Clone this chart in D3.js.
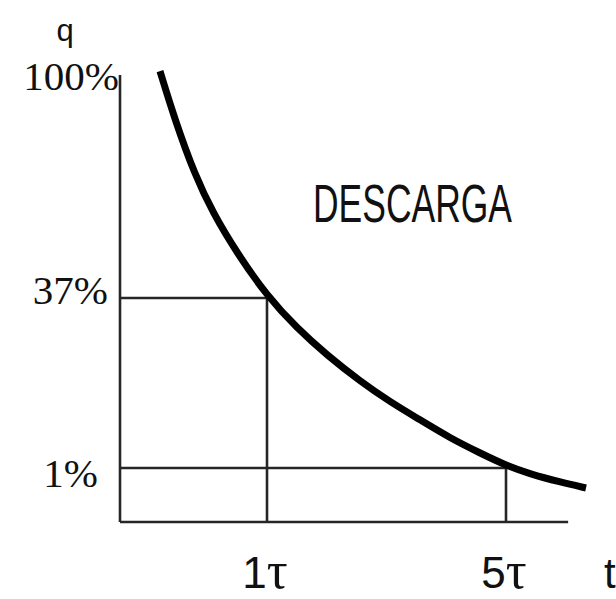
<!DOCTYPE html>
<html>
<head>
<meta charset="utf-8">
<script src="https://cdn.jsdelivr.net/npm/d3@7"></script>
<style>
  body { margin: 0; background: #fff; }
  svg { display: block; }
</style>
</head>
<body>
<div id="chart"></div>
<script>
// discharge curve, t in units of tau, q in percent
const curveT = [0.272, 0.374, 0.51, 0.633, 0.796, 1.0, 1.502, 2.004, 2.556, 3.059, 3.561, 4.063, 4.565, 4.983, 5.402, 5.904, 6.339]
const curveQ = [101.1, 87.3, 71.7, 61.0, 49.7, 37.6, 30.6, 24.9, 19.4, 15.0, 11.2, 7.35, 4.18, 1.64, 0.89, 0.74, 0.63]

// reference marks
const markT = [1, 5]
const markQ = [37, 1]
const markTLabels = ['1', '5']
const qTicks = [100, 37, 1]
const qTickLabels = ['100%', '37%', '1%']

const tMax = 6.04
const qMax = 100

const svgWidth = 616
const svgHeight = 599

const svg = d3.select('#chart')
  .append('svg')
  .attr('width', svgWidth)
  .attr('height', svgHeight)

// the drawing is schematic, so both scales are piecewise
const x = d3.scaleLinear()
  .domain([0, 1, 5])
  .range([120, 267, 506])

const y = d3.scaleLinear()
  .domain([0, 1, 37, 100])
  .range([522, 468, 298, 75])

const lineColor = '#262626'
const lineWidth = 2.6

// axes
svg.append('line')
  .attr('x1', x(0)).attr('x2', x(0))
  .attr('y1', y(0)).attr('y2', y(qMax))
  .attr('stroke', lineColor).attr('stroke-width', lineWidth)

svg.append('line')
  .attr('x1', x(0)).attr('x2', x(tMax))
  .attr('y1', y(0)).attr('y2', y(0))
  .attr('stroke', lineColor).attr('stroke-width', lineWidth)

// guide lines
const marks = markT.map((t, i) => ({ t: t, q: markQ[i] }))

svg.selectAll('.hguide')
  .data(marks)
  .join('line')
  .attr('class', 'hguide')
  .attr('x1', x(0)).attr('x2', d => x(d.t))
  .attr('y1', d => y(d.q)).attr('y2', d => y(d.q))
  .attr('stroke', lineColor).attr('stroke-width', lineWidth)

svg.selectAll('.vguide')
  .data(marks)
  .join('line')
  .attr('class', 'vguide')
  .attr('x1', d => x(d.t)).attr('x2', d => x(d.t))
  .attr('y1', d => y(d.q)).attr('y2', y(0))
  .attr('stroke', lineColor).attr('stroke-width', lineWidth)

// curve
const curve = curveT.map((t, i) => ({ t: t, q: curveQ[i] }))

svg.append('path')
  .datum(curve)
  .attr('fill', 'none')
  .attr('stroke', '#000')
  .attr('stroke-width', 7)
  .attr('d', d3.line().x(d => x(d.t)).y(d => y(d.q)).curve(d3.curveBasis))

// q labels (end x and baseline offset per tick)
const qLabelPos = { 100: [119, 15], 37: [108, 6], 1: [98, 19] }

svg.selectAll('.qlabel')
  .data(qTicks)
  .join('text')
  .attr('class', 'qlabel')
  .attr('x', d => qLabelPos[d][0])
  .attr('y', d => y(d) + qLabelPos[d][1])
  .attr('text-anchor', 'end')
  .attr('font-family', 'Liberation Serif, serif')
  .attr('font-size', 41)
  .attr('fill', '#111')
  .text((d, i) => qTickLabels[i])

svg.append('text')
  .attr('x', 65)
  .attr('y', 41)
  .attr('text-anchor', 'middle')
  .attr('font-family', 'Liberation Sans, sans-serif')
  .attr('font-size', 31)
  .attr('fill', '#111')
  .text('q')

// t labels
const tLabels = svg.selectAll('.tlabel')
  .data(markT)
  .join('text')
  .attr('class', 'tlabel')
  .attr('x', d => x(d) - 2)
  .attr('y', 588)
  .attr('text-anchor', 'middle')
  .attr('fill', '#111')

tLabels.append('tspan')
  .attr('font-family', 'Liberation Sans, sans-serif')
  .attr('font-size', 44)
  .text((d, i) => markTLabels[i])

tLabels.append('tspan')
  .attr('font-family', 'Liberation Serif, serif')
  .attr('font-size', 52)
  .text('τ')

svg.append('text')
  .attr('x', 604)
  .attr('y', 588)
  .attr('font-family', 'Liberation Sans, sans-serif')
  .attr('font-size', 42)
  .attr('fill', '#111')
  .text('t')

// title inside the plot
svg.append('text')
  .attr('x', 313)
  .attr('y', 222)
  .attr('font-family', 'Liberation Sans, sans-serif')
  .attr('font-size', 54)
  .attr('textLength', 199)
  .attr('lengthAdjust', 'spacingAndGlyphs')
  .attr('fill', '#111')
  .text('DESCARGA')
</script>
</body>
</html>
